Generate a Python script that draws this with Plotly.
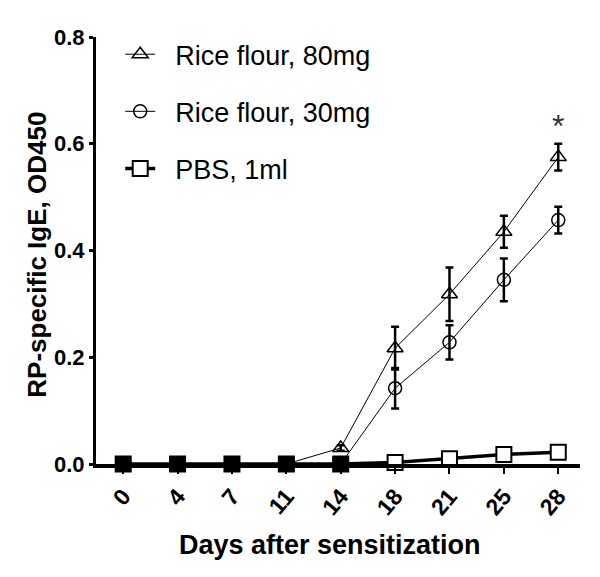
import plotly.graph_objects as go

days = ["0", "4", "7", "11", "14", "18", "21", "25", "28"]
rice80 = [0, 0, 0, 0, 0.03, 0.217, 0.318, 0.435, 0.575]
rice80_err = [0, 0, 0, 0, 0.005, 0.04, 0.05, 0.03, 0.025]
rice30 = [0, 0, 0, 0, 0, 0.142, 0.228, 0.345, 0.457]
rice30_err = [0, 0, 0, 0, 0, 0.038, 0.032, 0.04, 0.025]
pbs = [0, 0, 0, 0, 0, 0.003, 0.01, 0.018, 0.022]
pbs_err = [0, 0, 0, 0, 0, 0.003, 0.005, 0.004, 0.004]
yticks = [0.0, 0.2, 0.4, 0.6, 0.8]
ytext = ["0.0", "0.2", "0.4", "0.6", "0.8"]

FONT = "Liberation Sans, Arial, sans-serif"
NB = "\u00a0\u00a0"

fig = go.Figure()
fig.add_trace(go.Scatter(
    x=days, y=rice80, name=NB + "Rice flour, 80mg", mode="lines+markers",
    line=dict(color="black", width=1),
    marker=dict(symbol="triangle-up-open", size=14, color="black",
                line=dict(color="black", width=1.5)),
    error_y=dict(type="data", array=rice80_err, color="black", thickness=2.5, width=4),
    legendgroup="a", legendrank=1, cliponaxis=False,
))
fig.add_trace(go.Scatter(
    x=days, y=rice30, name=NB + "Rice flour, 30mg", mode="lines+markers",
    line=dict(color="black", width=1),
    marker=dict(symbol="circle-open", size=13, color="black",
                line=dict(color="black", width=1.5)),
    error_y=dict(type="data", array=rice30_err, color="black", thickness=2.5, width=4),
    legendgroup="b", legendrank=2, cliponaxis=False,
))
fig.add_trace(go.Scatter(
    x=days, y=pbs, name=NB + "PBS, 1ml", mode="lines+markers",
    line=dict(color="black", width=3.5),
    marker=dict(symbol="square", size=15, color="white",
                line=dict(color="black", width=2)),
    error_y=dict(type="data", array=pbs_err, color="black", thickness=2, width=3),
    legendgroup="c", legendrank=3, cliponaxis=False,
))
# overlapping markers at baseline appear as solid black squares
fig.add_trace(go.Scatter(
    x=days[:5], y=pbs[:5], mode="markers", showlegend=False,
    marker=dict(symbol="square", size=15, color="black",
                line=dict(color="black", width=1)),
    cliponaxis=False, hoverinfo="skip",
))

fig.add_annotation(x=days.index("28"), y=rice80[-1] + rice80_err[-1], yshift=18,
                   text="*", showarrow=False,
                   font=dict(family=FONT, size=32, color="#333"))

fig.add_annotation(xref="paper", yref="paper", x=0.483, y=-0.19, yanchor="middle",
                   text="<b>Days after sensitization</b>", showarrow=False,
                   font=dict(family=FONT, size=27, color="black"))
fig.add_annotation(xref="paper", yref="paper", x=-0.122, y=0.49, xanchor="center",
                   yanchor="middle", textangle=-90,
                   text="<b>RP-specific IgE, OD450</b>", showarrow=False,
                   font=dict(family=FONT, size=26, color="black"))

fig.update_layout(
    width=600, height=577,
    margin=dict(l=96, r=20, t=37, b=113),
    plot_bgcolor="white", paper_bgcolor="white",
    font=dict(family=FONT, color="black"),
    showlegend=True,
    legend=dict(x=0.05, y=1.016, xanchor="left", yanchor="top",
                font=dict(family=FONT, size=27, color="black"),
                tracegroupgap=19, bgcolor="rgba(0,0,0,0)",
                traceorder="grouped"),
    xaxis=dict(type="category", range=[-0.5, 8.4], automargin=False,
               showline=True, linecolor="black", linewidth=3.5,
               ticks="outside", ticklen=6, tickwidth=2, tickcolor="black",
               tickangle=-50, showgrid=False, zeroline=False,
               tickfont=dict(family=FONT, size=23, color="black", weight="bold")),
    yaxis=dict(range=[0, 0.8], tickvals=yticks, ticktext=ytext, automargin=False,
               showline=True, linecolor="black", linewidth=3,
               ticks="outside", ticklen=4, tickwidth=3, tickcolor="black",
               showgrid=False, zeroline=False,
               tickfont=dict(family=FONT, size=22, color="black", weight="bold")),
)

fig.write_html("out.html", config={"displayModeBar": False},
               post_script="document.body.style.margin='0';")
